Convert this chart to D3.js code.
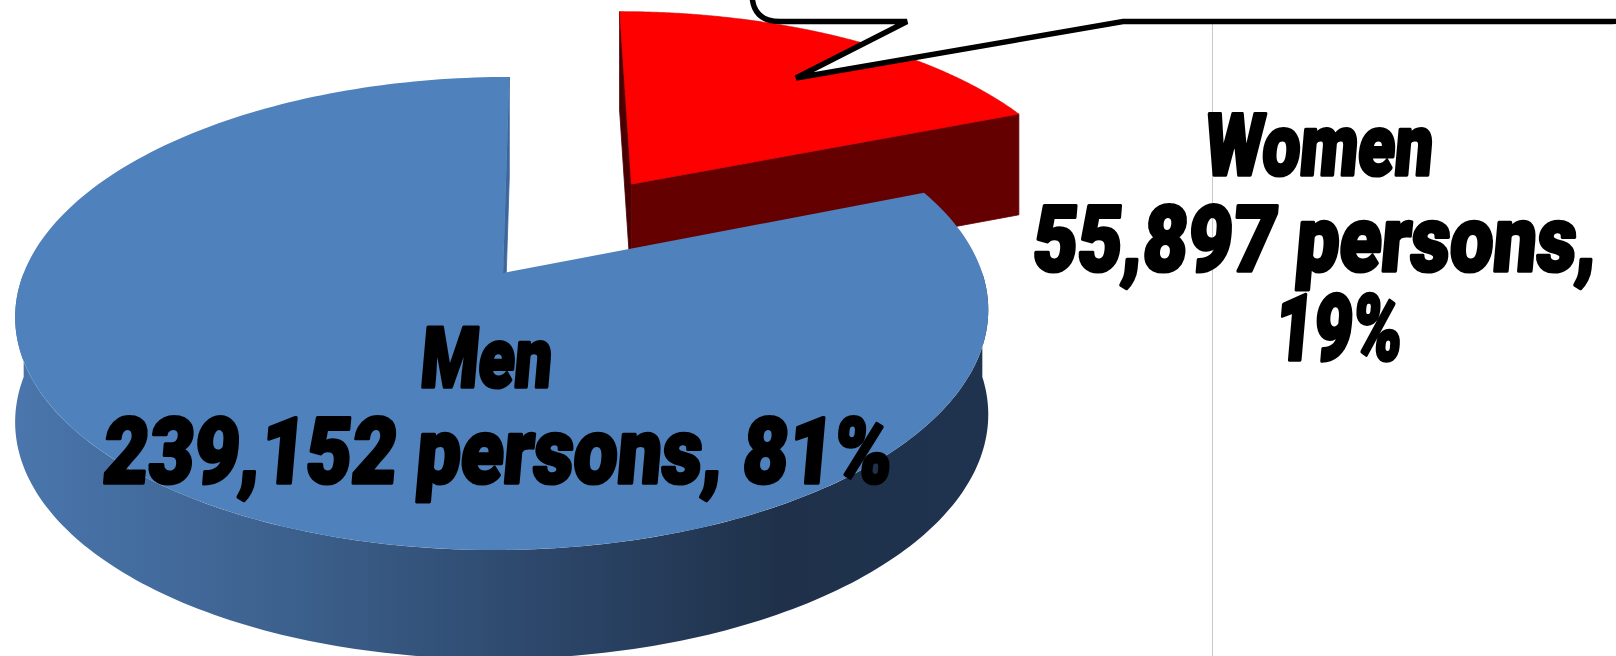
<!DOCTYPE html>
<html>
<head>
<meta charset="utf-8">
<script src="https://cdn.jsdelivr.net/npm/d3@7"></script>
<style>
  html, body { margin: 0; padding: 0; background: #ffffff; }
  svg { display: block; }
  .lbl { font-family: "Roboto", "Open Sans", "DejaVu Sans", sans-serif; font-weight: 900; fill: #000;
         stroke: #000; stroke-width: 3.2px; stroke-linejoin: round; paint-order: stroke;
         vector-effect: non-scaling-stroke; }
</style>
</head>
<body>
<svg id="chart" width="1616" height="656"></svg>
<script>
// ---- data ----
const categories = ["Men", "Women"];
const values = [239152, 55897];
const unitLabel = "persons";

// ---- styles ----
const topColor = { Men: "#4f81bd", Women: "#ff0000" };
const startFaceColor = { Men: "#3d679c", Women: "#4a0000" };
const endFaceColor = { Men: "#3d679c", Women: "#640000" };
const explodeBy = { Men: 0, Women: 0.5 };

const W = 1616, H = 656;
const svg = d3.select("#chart");

// perspective camera looking down on a unit-radius pie (top face)
const cam = { D: 5.128, sinA: 0.479, cosA: 0.8778, F: 2458, cu: 0.09, ox: 503, oy: 273 };
const slab = 104;                          // slab height in px at the pie centre
const sx0 = cam.ox + cam.F * cam.cu / cam.D;
function project(u, v) {
  const zc = cam.D + v * cam.cosA;
  const yc = v * cam.sinA;
  return [sx0 + cam.F * (u - cam.cu) / zc, cam.oy - cam.F * yc / zc];
}
// point on the lower face: dropped straight down by a gently depth-scaled slab height
function projectLow(u, v) {
  const p = project(u, v);
  const zc = cam.D + v * cam.cosA;
  return [p[0], p[1] + slab * Math.pow(cam.D / zc, 0.25)];
}
const radius = d3.scaleLinear().domain([0, 1]).range([0, 1]);

const total = d3.sum(values);
const a0 = 2 * Math.PI * values[1] / total;
const pie = d3.pie().sort(null).value(d => d.value).startAngle(a0).endAngle(a0 + 2 * Math.PI);
const rows = categories.map((c, i) => ({ name: c, value: values[i] }));
const arcs = pie(rows).map(a => {
  const mid = (a.startAngle + a.endAngle) / 2;
  const e = explodeBy[a.data.name];
  a.off = [e * Math.sin(mid), e * Math.cos(mid)];
  return a;
});

const line = d3.line().curve(d3.curveLinearClosed);
const rimUV = (a, off) => [off[0] + radius(1) * Math.sin(a), off[1] + radius(1) * Math.cos(a)];
const rimTop = (a, off) => project(...rimUV(a, off));
const rimLow = (a, off) => projectLow(...rimUV(a, off));
function arcPts(s, e, off, low, n) {
  const pts = [];
  for (let i = 0; i <= n; i++) {
    const a = s + (e - s) * i / n;
    pts.push(low ? rimLow(a, off) : rimTop(a, off));
  }
  return pts;
}
// which cut faces point toward the camera
const camU = cam.cu, camV = -cam.D * cam.cosA;
function faces(nu, nv, off) { return nu * (camU - off[0]) + nv * (camV - off[1]) > 0; }

// gradient for the curved wall
const defs = svg.append("defs");
const grad = defs.append("linearGradient").attr("id", "wallGrad")
  .attr("gradientUnits", "userSpaceOnUse")
  .attr("x1", project(-1, 0)[0] - 10).attr("x2", project(1, 0)[0] + 10)
  .attr("y1", 0).attr("y2", 0);
[[0, "#4a76ad"], [0.3, "#3b5f8b"], [0.55, "#2c4669"], [0.78, "#1f314a"], [1, "#1f334f"]]
  .forEach(([o, c]) => grad.append("stop").attr("offset", o).attr("stop-color", c));

const norm = x => ((x % (2 * Math.PI)) + 2 * Math.PI) % (2 * Math.PI);

// farthest slice first
const order = arcs.slice().sort((p, q) => q.off[1] - p.off[1]);
const g = svg.append("g");
order.forEach(a => {
  const name = a.data.name, off = a.off;
  const sg = g.append("g").attr("class", "slice " + name);
  const s = a.startAngle, e = a.endAngle;
  const c0 = project(off[0], off[1]), c1 = projectLow(off[0], off[1]);
  // cut face at start angle
  if (faces(-Math.cos(s), Math.sin(s), off)) {
    sg.append("path").attr("d", line([c0, rimTop(s, off), rimLow(s, off), c1]))
      .attr("fill", startFaceColor[name]).attr("stroke", startFaceColor[name]).attr("stroke-width", 0.8);
  }
  // cut face at end angle
  if (faces(Math.cos(e), -Math.sin(e), off)) {
    sg.append("path").attr("d", line([c0, rimTop(e, off), rimLow(e, off), c1]))
      .attr("fill", endFaceColor[name]).attr("stroke", endFaceColor[name]).attr("stroke-width", 0.8);
  }
  // outer wall on the near half
  let ns = norm(s), ne = norm(e) === 0 ? 2 * Math.PI : norm(e);
  if (ne < ns) { ne += 2 * Math.PI; }
  const ws = Math.max(ns, Math.PI / 2), we = Math.min(ne, 1.5 * Math.PI);
  if (we > ws) {
    const pts = arcPts(ws, we, off, false, 180).concat(arcPts(we, ws, off, true, 180));
    sg.append("path").attr("d", line(pts)).attr("fill", "url(#wallGrad)");
  }
  // top face
  const topPts = [c0].concat(arcPts(s, e, off, false, 240));
  sg.append("path").attr("d", line(topPts)).attr("fill", topColor[name])
    .attr("stroke", name === "Women" ? "#d00000" : "none").attr("stroke-width", 0.6);
});

// thin divider line of the plot area
svg.append("line").attr("x1", 1212.5).attr("x2", 1212.5).attr("y1", 24).attr("y2", H)
  .attr("stroke", "#c8c8c8").attr("stroke-width", 1);

// callout balloon at the top
const callout = d3.path();
callout.moveTo(752, -60);
callout.lineTo(752, 21.5 - 28);
callout.quadraticCurveTo(752, 21.5, 780, 21.5);
callout.lineTo(907, 21.5);
callout.lineTo(796, 78);
callout.lineTo(1123, 21.5);
callout.lineTo(1612, 21.5);
callout.quadraticCurveTo(1640, 21.5, 1640, -6.5);
callout.lineTo(1640, -60);
callout.closePath();
svg.append("path").attr("d", callout.toString()).attr("fill", "#fff")
  .attr("stroke", "#000").attr("stroke-width", 5.4).attr("stroke-linejoin", "miter");

// data labels: condensed to a set advance width by a horizontal scale
const fmtNum = d3.format(",");
const fmtPct = d3.format(".0%");
const labelLines = {
  Men: [
    { text: categories[0], x: 419, w: 131, y: 387, size: 84 },
    { text: `${fmtNum(values[0])} ${unitLabel}, ${fmtPct(values[0] / total)}`, x: 101, w: 789, y: 483, size: 92 }
  ],
  Women: [
    { text: categories[1], x: 1203, w: 228, y: 175, size: 86 },
    { text: `${fmtNum(values[1])} ${unitLabel},`, x: 1031, w: 564, y: 271, size: 92 },
    { text: `${fmtPct(values[1] / total)}`, x: 1273, w: 127, y: 360, size: 92 }
  ]
};
Object.keys(labelLines).forEach(k => {
  svg.append("g").attr("class", "label " + k).selectAll("text").data(labelLines[k]).join("text")
    .attr("class", "lbl")
    .attr("font-size", d => d.size)
    .text(d => d.text)
    .attr("transform", function (d) {
      const natural = this.getComputedTextLength() || d.w;
      return `translate(${d.x},${d.y}) skewX(-5) scale(${d.w / natural},1)`;
    });
});
</script>
</body>
</html>
